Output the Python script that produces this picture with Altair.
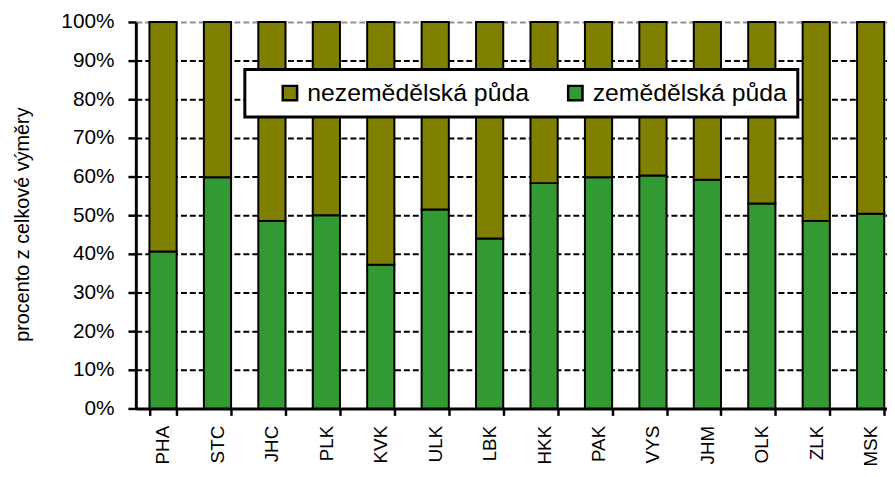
import altair as alt
import pandas as pd

regions = ["PHA", "STC", "JHC", "PLK", "KVK", "ULK", "LBK", "HKK", "PAK", "VYS", "JHM", "OLK", "ZLK", "MSK"]
agri = [40.6, 59.8, 48.5, 50.0, 37.2, 51.5, 44.0, 58.3, 59.8, 60.3, 59.2, 53.0, 48.5, 50.4]
nonagri = [59.4, 40.2, 51.5, 50.0, 62.8, 48.5, 56.0, 41.7, 40.2, 39.7, 40.8, 47.0, 51.5, 49.6]
series = ["nezemědělská půda", "zemědělská půda"]
colors = ["#808000", "#339933"]
y_ticks = [0, 0.1, 0.2, 0.3, 0.4, 0.5, 0.6, 0.7, 0.8, 0.9, 1.0]

rows = []
for r, a, n in zip(regions, agri, nonagri):
    rows.append({"kraj": r, "druh": series[1], "podil": a, "poradi": 0})
    rows.append({"kraj": r, "druh": series[0], "podil": n, "poradi": 1})
df = pd.DataFrame(rows)

FONT = "Liberation Sans"

chart = alt.Chart(df).mark_bar(stroke="black", strokeWidth=2).encode(
    x=alt.X(
        "kraj:N",
        sort=regions,
        scale=alt.Scale(range=[0, 769], paddingInner=0.5, paddingOuter=0.25),
        axis=alt.Axis(
            title=None,
            labelAngle=270,
            labelAlign="right",
            labelBaseline="middle",
            labelFontSize=19,
            labelPadding=10,
            tickBand="extent",
            tickSize=7,
        ),
    ),
    y=alt.Y(
        "podil:Q",
        stack="normalize",
        scale=alt.Scale(domain=[0, 1], nice=False),
        axis=alt.Axis(
            title="procento z celkové výměry",
            format=".0%",
            values=y_ticks,
            labelFontSize=21,
            labelPadding=14,
            tickSize=8,
            grid=True,
            gridColor={"condition": {"test": "datum.value == 1", "value": "#909090"}, "value": "black"},
            gridDash=[6, 3],
            gridWidth=2,
            titleFontSize=20,
            titleFontWeight="normal",
            titleX=-104,
            titleY=204,
        ),
    ),
    color=alt.Color(
        "druh:N",
        scale=alt.Scale(domain=series, range=colors),
        legend=alt.Legend(
            title=" ",
            titleOrient="left",
            titlePadding=22,
            orient="none",
            legendX=110,
            legendY=48,
            direction="horizontal",
            fillColor="white",
            strokeColor="black",
            padding=11,
            labelFontSize=25,
            labelOffset=5,
            labelLimit=400,
            columnPadding=34,
            symbolType="square",
            symbolSize=210,
            symbolStrokeColor="black",
            symbolStrokeWidth=2.5,
            labelExpr="datum.label == 'zemědělská půda' ? datum.label + '  ' : datum.label",
        ),
    ),
    order=alt.Order("poradi:Q"),
).properties(
    width=758,
    height=390,
    autosize=alt.AutoSizeParams(type="none"),
    padding={"left": 129, "top": 12, "right": 0, "bottom": 57},
).configure_view(
    stroke=None
).configure_axis(
    labelFont=FONT,
    titleFont=FONT,
    labelColor="black",
    titleColor="black",
    domainColor="black",
    domainWidth=3,
    tickColor="black",
    tickWidth=2.5,
).configure_legend(
    labelFont=FONT,
    titleFont=FONT,
    labelColor="black",
    strokeWidth=3,
)

chart.save("out.html", embed_options={"renderer": "svg", "actions": False})
